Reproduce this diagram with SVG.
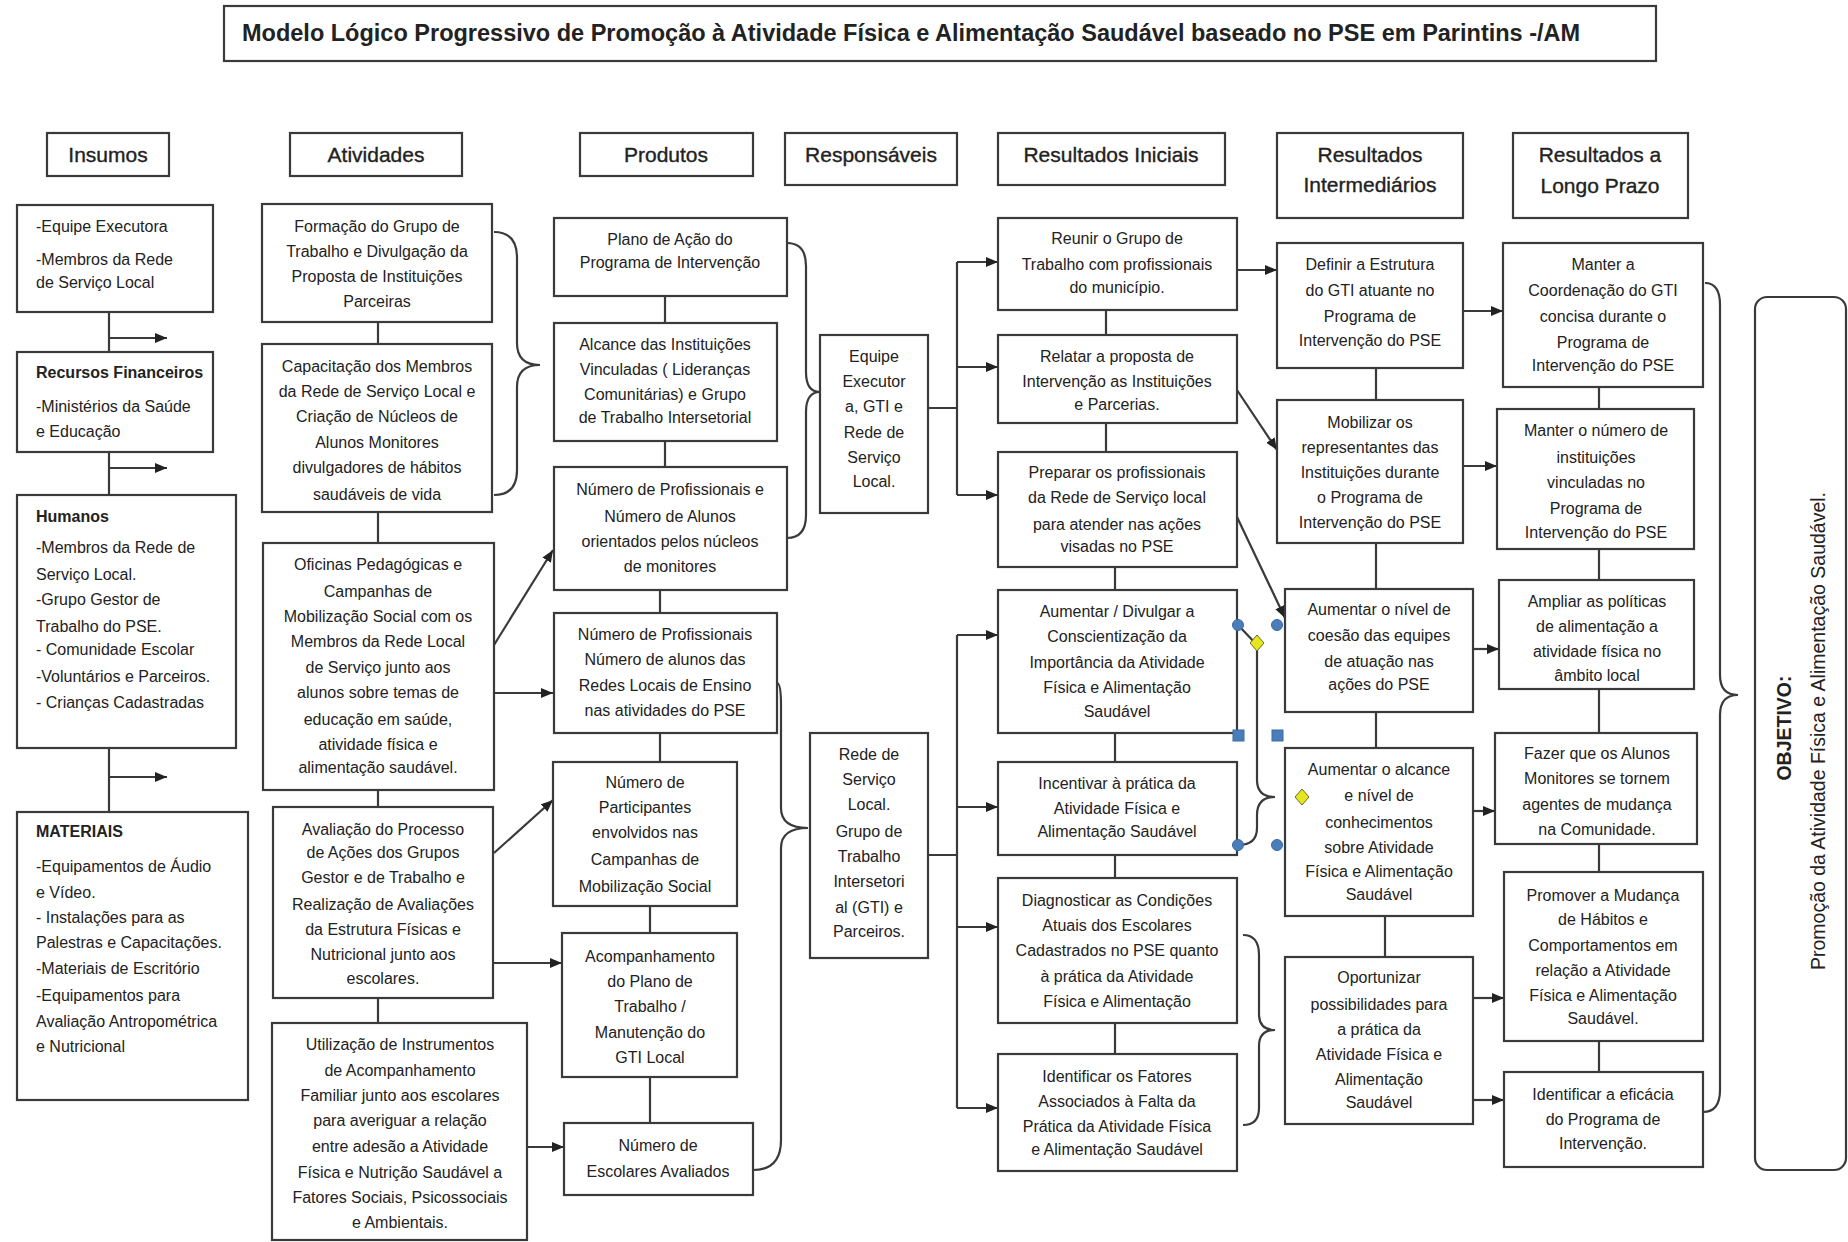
<svg xmlns="http://www.w3.org/2000/svg" width="1848" height="1242" viewBox="0 0 1848 1242">
<style>
.box{fill:#fff;stroke:#3a3a3a;stroke-width:2.2}
.t{font-family:"Liberation Sans",Arial,sans-serif;font-size:16px;fill:#222;text-anchor:middle}
.l{text-anchor:start}
.h{font-size:21px;stroke:#222;stroke-width:0.35}
.b{font-weight:bold}
.ln{stroke:#3a3a3a;stroke-width:2.2;fill:none}
.ar{marker-end:url(#ah)}
.hc{fill:#4a7ebb;stroke:#3b6aa0;stroke-width:1}
.hd{fill:#e6e61e;stroke:#6b6b2a;stroke-width:1}
</style>
<defs>
<marker id="ah" markerUnits="userSpaceOnUse" markerWidth="12" markerHeight="10" refX="12" refY="5" orient="auto">
<path d="M0,0 L12,5 L0,10 z" fill="#222"/>
</marker>
</defs>
<rect width="1848" height="1242" fill="#fff"/>

<g id="title">
<rect class="box" x="224" y="6" width="1432" height="55"/>
<text class="t l b" x="242" y="41" style="font-size:23.5px">Modelo Lógico Progressivo de Promoção à Atividade Física e Alimentação Saudável baseado no PSE em Parintins -/AM</text>
</g>

<g id="headers">
<g id="h-insumos"><rect class="box" x="47" y="133" width="122" height="43"/><text class="t h" x="108" y="162">Insumos</text></g>
<g id="h-atividades"><rect class="box" x="290" y="133" width="172" height="43"/><text class="t h" x="376" y="162">Atividades</text></g>
<g id="h-produtos"><rect class="box" x="580" y="133" width="173" height="43"/><text class="t h" x="666" y="162">Produtos</text></g>
<g id="h-responsaveis"><rect class="box" x="785" y="133" width="172" height="52"/><text class="t h" x="871" y="162">Responsáveis</text></g>
<g id="h-iniciais"><rect class="box" x="998" y="133" width="227" height="52"/><text class="t h" x="1111" y="162">Resultados Iniciais</text></g>
<g id="h-intermediarios"><rect class="box" x="1277" y="133" width="186" height="85"/><text class="t h" x="1370" y="162">Resultados</text><text class="t h" x="1370" y="192">Intermediários</text></g>
<g id="h-longo"><rect class="box" x="1513" y="133" width="175" height="85"/><text class="t h" x="1600" y="162">Resultados a</text><text class="t h" x="1600" y="193">Longo Prazo</text></g>
</g>

<g id="connectors">
<path class="ln" d="M109,312 V352 M109,452 V495 M109,748 V812"/>
<path class="ln ar" d="M109,338 H167"/>
<path class="ln ar" d="M109,468 H167"/>
<path class="ln ar" d="M109,777 H167"/>
<path class="ln" d="M378,322 V344 M378,512 V543 M378,790 V807 M378,998 V1023"/>
<path class="ln" d="M494,232 Q517,232 517,258 L517,343 Q517,365 540,365 Q517,365 517,387 L517,470 Q517,495 494,495"/>
<path class="ln ar" d="M494,645 L553,550"/>
<path class="ln ar" d="M494,693 H553"/>
<path class="ln ar" d="M494,853 L553,800"/>
<path class="ln ar" d="M493,963 H562"/>
<path class="ln ar" d="M527,1147 H564"/>
<path class="ln" d="M665,296 V323 M665,441 V467 M660,590 V613 M660,733 V762 M650,906 V933 M650,1077 V1123"/>
<path class="ln" d="M787,243 Q806,243 806,266 L806,372 Q806,392 820,392 Q806,392 806,412 L806,515 Q806,538 787,538"/>
<path class="ln" d="M777,683 Q781,683 781,705 L781,808 Q781,828 808,828 Q781,828 781,848 L781,1140 Q781,1170 753,1170"/>
<path class="ln" d="M928,408 H957 M957,262 V495"/>
<path class="ln ar" d="M957,262 H998"/>
<path class="ln ar" d="M957,367 H998"/>
<path class="ln ar" d="M957,495 H998"/>
<path class="ln" d="M928,855 H957 M957,635 V1108"/>
<path class="ln ar" d="M957,635 H998"/>
<path class="ln ar" d="M957,807 H998"/>
<path class="ln ar" d="M957,927 H998"/>
<path class="ln ar" d="M957,1108 H998"/>
<path class="ln" d="M1106,310 V335 M1106,423 V452 M1115,567 V590 M1115,733 V762 M1115,855 V878 M1115,1023 V1054"/>
<path class="ln ar" d="M1237,270 H1277"/>
<path class="ln ar" d="M1237,390 L1277,450"/>
<path class="ln ar" d="M1237,517 L1285,618"/>
<path class="ln" d="M1238,625 L1257,645 L1257,780 Q1257,797 1275,797 Q1257,797 1257,815 L1257,828 Q1257,845 1238,845"/>
<path class="ln" d="M1243,935 Q1259,935 1259,955 L1259,1014 Q1259,1030 1275,1030 Q1259,1030 1259,1046 L1259,1108 Q1259,1125 1243,1125"/>
<path class="ln" d="M1376,368 V400 M1376,543 V589 M1376,712 V748 M1385,916 V957"/>
<path class="ln ar" d="M1463,311 H1503"/>
<path class="ln ar" d="M1463,466 H1497"/>
<path class="ln ar" d="M1473,649 H1499"/>
<path class="ln ar" d="M1473,811 H1495"/>
<path class="ln ar" d="M1473,998 H1504"/>
<path class="ln ar" d="M1473,1100 H1504"/>
<path class="ln" d="M1599,387 V409 M1599,549 V580 M1599,689 V733 M1599,844 V872 M1599,1041 V1072"/>
<path class="ln" d="M1705,283 Q1720,283 1720,305 L1720,675 Q1720,695 1738,695 Q1720,695 1720,715 L1720,1090 Q1720,1112 1703,1112"/>
</g>

<g id="insumos-1"><rect class="box" x="17" y="205" width="196" height="107"/>
<text class="t l" x="36" y="232">-Equipe Executora</text><text class="t l" x="36" y="265">-Membros da Rede</text><text class="t l" x="36" y="288">de Serviço Local</text></g>
<g id="insumos-2"><rect class="box" x="17" y="352" width="196" height="100"/>
<text class="t l b" x="36" y="378">Recursos Financeiros</text><text class="t l" x="36" y="412">-Ministérios da Saúde</text><text class="t l" x="36" y="437">e Educação</text></g>
<g id="insumos-3"><rect class="box" x="17" y="495" width="219" height="253"/>
<text class="t l b" x="36" y="522">Humanos</text>
<text class="t l" x="36" y="553">-Membros da Rede de</text>
<text class="t l" x="36" y="580">Serviço Local.</text>
<text class="t l" x="36" y="605">-Grupo Gestor de</text>
<text class="t l" x="36" y="632">Trabalho do PSE.</text>
<text class="t l" x="36" y="655">- Comunidade Escolar</text>
<text class="t l" x="36" y="682">-Voluntários e Parceiros.</text>
<text class="t l" x="36" y="708">- Crianças Cadastradas</text></g>
<g id="insumos-4"><rect class="box" x="17" y="812" width="231" height="288"/>
<text class="t l b" x="36" y="837">MATERIAIS</text>
<text class="t l" x="36" y="872">-Equipamentos de Áudio</text>
<text class="t l" x="36" y="898">e Vídeo.</text>
<text class="t l" x="36" y="923">- Instalações para as</text>
<text class="t l" x="36" y="948">Palestras e Capacitações.</text>
<text class="t l" x="36" y="974">-Materiais de Escritório</text>
<text class="t l" x="36" y="1001">-Equipamentos para</text>
<text class="t l" x="36" y="1027">Avaliação Antropométrica</text>
<text class="t l" x="36" y="1052">e Nutricional</text></g>

<g id="atividade-1"><rect class="box" x="262" y="204" width="230" height="118"/>
<text class="t" x="377" y="232">Formação do Grupo de</text><text class="t" x="377" y="257">Trabalho e Divulgação da</text><text class="t" x="377" y="282">Proposta de Instituições</text><text class="t" x="377" y="307">Parceiras</text></g>
<g id="atividade-2"><rect class="box" x="262" y="344" width="230" height="168"/>
<text class="t" x="377" y="372">Capacitação dos Membros</text><text class="t" x="377" y="397">da Rede de Serviço Local e</text><text class="t" x="377" y="422">Criação de Núcleos de</text><text class="t" x="377" y="448">Alunos Monitores</text><text class="t" x="377" y="473">divulgadores de hábitos</text><text class="t" x="377" y="500">saudáveis de vida</text></g>
<g id="atividade-3"><rect class="box" x="263" y="543" width="231" height="247"/>
<text class="t" x="378" y="570">Oficinas Pedagógicas e</text><text class="t" x="378" y="597">Campanhas de</text><text class="t" x="378" y="622">Mobilização Social com os</text><text class="t" x="378" y="647">Membros da Rede Local</text><text class="t" x="378" y="673">de Serviço junto aos</text><text class="t" x="378" y="698">alunos sobre temas de</text><text class="t" x="378" y="725">educação em saúde,</text><text class="t" x="378" y="750">atividade física e</text><text class="t" x="378" y="773">alimentação saudável.</text></g>
<g id="atividade-4"><rect class="box" x="273" y="807" width="220" height="191"/>
<text class="t" x="383" y="835">Avaliação do Processo</text><text class="t" x="383" y="858">de Ações dos Grupos</text><text class="t" x="383" y="883">Gestor e de Trabalho e</text><text class="t" x="383" y="910">Realização de Avaliações</text><text class="t" x="383" y="935">da Estrutura Físicas e</text><text class="t" x="383" y="960">Nutricional junto aos</text><text class="t" x="383" y="984">escolares.</text></g>
<g id="atividade-5"><rect class="box" x="272" y="1023" width="255" height="217"/>
<text class="t" x="400" y="1050">Utilização de Instrumentos</text><text class="t" x="400" y="1076">de Acompanhamento</text><text class="t" x="400" y="1101">Familiar junto aos escolares</text><text class="t" x="400" y="1126">para averiguar a relação</text><text class="t" x="400" y="1152">entre adesão a Atividade</text><text class="t" x="400" y="1178">Física e Nutrição Saudável a</text><text class="t" x="400" y="1203">Fatores Sociais, Psicossociais</text><text class="t" x="400" y="1228">e Ambientais.</text></g>

<g id="produto-1"><rect class="box" x="554" y="218" width="233" height="78"/>
<text class="t" x="670" y="245">Plano de Ação do</text><text class="t" x="670" y="268">Programa de Intervenção</text></g>
<g id="produto-2"><rect class="box" x="554" y="323" width="223" height="118"/>
<text class="t" x="665" y="350">Alcance das Instituições</text><text class="t" x="665" y="375">Vinculadas ( Lideranças</text><text class="t" x="665" y="400">Comunitárias) e Grupo</text><text class="t" x="665" y="423">de Trabalho Intersetorial</text></g>
<g id="produto-3"><rect class="box" x="554" y="467" width="233" height="123"/>
<text class="t" x="670" y="495">Número de Profissionais e</text><text class="t" x="670" y="522">Número de Alunos</text><text class="t" x="670" y="547">orientados pelos núcleos</text><text class="t" x="670" y="572">de monitores</text></g>
<g id="produto-4"><rect class="box" x="554" y="613" width="223" height="120"/>
<text class="t" x="665" y="640">Número de Profissionais</text><text class="t" x="665" y="665">Número de alunos das</text><text class="t" x="665" y="691">Redes Locais de Ensino</text><text class="t" x="665" y="716">nas atividades do PSE</text></g>
<g id="produto-5"><rect class="box" x="553" y="762" width="184" height="144"/>
<text class="t" x="645" y="788">Número de</text><text class="t" x="645" y="813">Participantes</text><text class="t" x="645" y="838">envolvidos nas</text><text class="t" x="645" y="865">Campanhas de</text><text class="t" x="645" y="892">Mobilização Social</text></g>
<g id="produto-6"><rect class="box" x="562" y="933" width="175" height="144"/>
<text class="t" x="650" y="962">Acompanhamento</text><text class="t" x="650" y="987">do Plano de</text><text class="t" x="650" y="1012">Trabalho /</text><text class="t" x="650" y="1038">Manutenção do</text><text class="t" x="650" y="1063">GTI Local</text></g>
<g id="produto-7"><rect class="box" x="564" y="1123" width="189" height="72"/>
<text class="t" x="658" y="1151">Número de</text><text class="t" x="658" y="1177">Escolares Avaliados</text></g>

<g id="responsavel-1"><rect class="box" x="820" y="335" width="108" height="178"/>
<text class="t" x="874" y="362">Equipe</text><text class="t" x="874" y="387">Executor</text><text class="t" x="874" y="412">a, GTI e</text><text class="t" x="874" y="438">Rede de</text><text class="t" x="874" y="463">Serviço</text><text class="t" x="874" y="487">Local.</text></g>
<g id="responsavel-2"><rect class="box" x="810" y="733" width="118" height="225"/>
<text class="t" x="869" y="760">Rede de</text><text class="t" x="869" y="785">Serviço</text><text class="t" x="869" y="810">Local.</text><text class="t" x="869" y="837">Grupo de</text><text class="t" x="869" y="862">Trabalho</text><text class="t" x="869" y="887">Intersetori</text><text class="t" x="869" y="913">al (GTI) e</text><text class="t" x="869" y="937">Parceiros.</text></g>

<g id="inicial-1"><rect class="box" x="998" y="218" width="239" height="92"/>
<text class="t" x="1117" y="244">Reunir o Grupo de</text><text class="t" x="1117" y="270">Trabalho com profissionais</text><text class="t" x="1117" y="293">do município.</text></g>
<g id="inicial-2"><rect class="box" x="998" y="335" width="239" height="88"/>
<text class="t" x="1117" y="362">Relatar a proposta de</text><text class="t" x="1117" y="387">Intervenção as Instituições</text><text class="t" x="1117" y="410">e Parcerias.</text></g>
<g id="inicial-3"><rect class="box" x="998" y="452" width="239" height="115"/>
<text class="t" x="1117" y="478">Preparar os profissionais</text><text class="t" x="1117" y="503">da Rede de Serviço local</text><text class="t" x="1117" y="530">para atender nas ações</text><text class="t" x="1117" y="552">visadas no PSE</text></g>
<g id="inicial-4"><rect class="box" x="998" y="590" width="239" height="143"/>
<text class="t" x="1117" y="617">Aumentar / Divulgar a</text><text class="t" x="1117" y="642">Conscientização da</text><text class="t" x="1117" y="668">Importância da Atividade</text><text class="t" x="1117" y="693">Física e Alimentação</text><text class="t" x="1117" y="717">Saudável</text></g>
<g id="inicial-5"><rect class="box" x="998" y="762" width="239" height="93"/>
<text class="t" x="1117" y="789">Incentivar à prática da</text><text class="t" x="1117" y="814">Atividade Física e</text><text class="t" x="1117" y="837">Alimentação Saudável</text></g>
<g id="inicial-6"><rect class="box" x="998" y="878" width="239" height="145"/>
<text class="t" x="1117" y="906">Diagnosticar as Condições</text><text class="t" x="1117" y="931">Atuais dos Escolares</text><text class="t" x="1117" y="956">Cadastrados no PSE quanto</text><text class="t" x="1117" y="982">à prática da Atividade</text><text class="t" x="1117" y="1007">Física e Alimentação</text></g>
<g id="inicial-7"><rect class="box" x="998" y="1054" width="239" height="117"/>
<text class="t" x="1117" y="1082">Identificar os Fatores</text><text class="t" x="1117" y="1107">Associados à Falta da</text><text class="t" x="1117" y="1132">Prática da Atividade Física</text><text class="t" x="1117" y="1155">e Alimentação Saudável</text></g>

<g id="intermediario-1"><rect class="box" x="1277" y="243" width="186" height="125"/>
<text class="t" x="1370" y="270">Definir a Estrutura</text><text class="t" x="1370" y="296">do GTI atuante no</text><text class="t" x="1370" y="322">Programa de</text><text class="t" x="1370" y="346">Intervenção do PSE</text></g>
<g id="intermediario-2"><rect class="box" x="1277" y="400" width="186" height="143"/>
<text class="t" x="1370" y="428">Mobilizar os</text><text class="t" x="1370" y="453">representantes das</text><text class="t" x="1370" y="478">Instituições durante</text><text class="t" x="1370" y="503">o Programa de</text><text class="t" x="1370" y="528">Intervenção do PSE</text></g>
<g id="intermediario-3"><rect class="box" x="1285" y="589" width="188" height="123"/>
<text class="t" x="1379" y="615">Aumentar o nível de</text><text class="t" x="1379" y="641">coesão das equipes</text><text class="t" x="1379" y="667">de atuação nas</text><text class="t" x="1379" y="690">ações do PSE</text></g>
<g id="intermediario-4"><rect class="box" x="1285" y="748" width="188" height="168"/>
<text class="t" x="1379" y="775">Aumentar o alcance</text><text class="t" x="1379" y="801">e nível de</text><text class="t" x="1379" y="828">conhecimentos</text><text class="t" x="1379" y="853">sobre Atividade</text><text class="t" x="1379" y="877">Física e Alimentação</text><text class="t" x="1379" y="900">Saudável</text></g>
<g id="intermediario-5"><rect class="box" x="1285" y="957" width="188" height="167"/>
<text class="t" x="1379" y="983">Oportunizar</text><text class="t" x="1379" y="1010">possibilidades para</text><text class="t" x="1379" y="1035">a prática da</text><text class="t" x="1379" y="1060">Atividade Física e</text><text class="t" x="1379" y="1085">Alimentação</text><text class="t" x="1379" y="1108">Saudável</text></g>

<g id="longo-1"><rect class="box" x="1503" y="243" width="200" height="144"/>
<text class="t" x="1603" y="270">Manter a</text><text class="t" x="1603" y="296">Coordenação do GTI</text><text class="t" x="1603" y="322">concisa durante o</text><text class="t" x="1603" y="348">Programa de</text><text class="t" x="1603" y="371">Intervenção do PSE</text></g>
<g id="longo-2"><rect class="box" x="1497" y="409" width="197" height="140"/>
<text class="t" x="1596" y="436">Manter o número de</text><text class="t" x="1596" y="463">instituições</text><text class="t" x="1596" y="488">vinculadas no</text><text class="t" x="1596" y="514">Programa de</text><text class="t" x="1596" y="538">Intervenção do PSE</text></g>
<g id="longo-3"><rect class="box" x="1499" y="580" width="195" height="109"/>
<text class="t" x="1597" y="607">Ampliar as políticas</text><text class="t" x="1597" y="632">de alimentação a</text><text class="t" x="1597" y="657">atividade física no</text><text class="t" x="1597" y="681">âmbito local</text></g>
<g id="longo-4"><rect class="box" x="1495" y="733" width="202" height="111"/>
<text class="t" x="1597" y="759">Fazer que os Alunos</text><text class="t" x="1597" y="784">Monitores se tornem</text><text class="t" x="1597" y="810">agentes de mudança</text><text class="t" x="1597" y="835">na Comunidade.</text></g>
<g id="longo-5"><rect class="box" x="1504" y="872" width="199" height="169"/>
<text class="t" x="1603" y="901">Promover a Mudança</text><text class="t" x="1603" y="925">de Hábitos e</text><text class="t" x="1603" y="951">Comportamentos em</text><text class="t" x="1603" y="976">relação a Atividade</text><text class="t" x="1603" y="1001">Física e Alimentação</text><text class="t" x="1603" y="1024">Saudável.</text></g>
<g id="longo-6"><rect class="box" x="1504" y="1072" width="199" height="95"/>
<text class="t" x="1603" y="1100">Identificar a eficácia</text><text class="t" x="1603" y="1125">do Programa de</text><text class="t" x="1603" y="1149">Intervenção.</text></g>

<g id="objetivo"><rect class="box" x="1755" y="297" width="91" height="873" rx="12" ry="12"/>
<text class="t b" x="1791" y="728" style="font-size:19.5px" transform="rotate(-90 1791 728)">OBJETIVO:</text>
<text class="t" x="1825" y="731" style="font-size:19.5px" transform="rotate(-90 1825 731)">Promoção da Atividade Física e Alimentação Saudável.</text></g>

<g id="selection-handles">
<circle class="hc" cx="1238" cy="625" r="5.5"/>
<circle class="hc" cx="1277" cy="625" r="5.5"/>
<circle class="hc" cx="1238" cy="845" r="5.5"/>
<circle class="hc" cx="1277" cy="845" r="5.5"/>
<rect class="hc" x="1233" y="730" width="11" height="11"/>
<rect class="hc" x="1272" y="730" width="11" height="11"/>
<path class="hd" d="M1257,635 L1264,643 L1257,651 L1250,643 z"/>
<path class="hd" d="M1302,789 L1309,797 L1302,805 L1295,797 z"/>
</g>
</svg>
